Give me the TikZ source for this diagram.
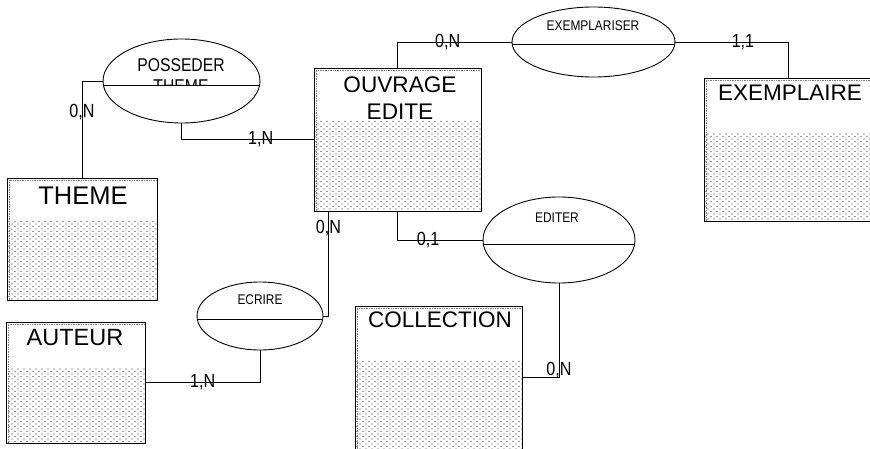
\documentclass[tikz,border=0pt]{standalone}
\usepackage{fontspec}
\setmainfont{Liberation Sans}
\newfontfamily\narrowfont[FakeStretch=0.85]{Liberation Sans}
\usepackage{tikz}
\usetikzlibrary{shapes.geometric}
\usetikzlibrary{patterns.meta}
\tikzdeclarepattern{name=erdots, type=uncolored,
  bottom left={(-1pt,-1pt)}, top right={(5pt,4pt)}, tile size={(6pt,5pt)},
  code={\fill (0pt,0pt) circle (0.6pt); \fill (3pt,2.5pt) circle (0.55pt);}}
\newcommand{\erfont}[2]{\fontsize{#1}{#2}\selectfont}

\begin{document}
\begin{tikzpicture}[x=1pt, y=-1pt, line width=0.9pt,
  entity/.style={draw, rectangle, inner sep=0pt, path picture={
      \fill[pattern=erdots, pattern color=black!80] (path picture bounding box.south west) rectangle ([yshift=-#1pt]path picture bounding box.north east);
      \draw[black!50, densely dotted, line width=0.7pt] ([xshift=2pt]path picture bounding box.south west) -- ([shift={(2pt,-2pt)}]path picture bounding box.north west) -- ([yshift=-2pt]path picture bounding box.north east);}},
  relation/.style={draw, ellipse, inner sep=0pt},
  card/.style={font=\narrowfont\erfont{19}{22}, inner sep=0pt}]
  \useasboundingbox (0,0) rectangle (870,449);
  \node[entity=44, minimum width=150pt, minimum height=122pt] (theme) at (82,239) {};
  \node[entity=46, minimum width=139pt, minimum height=121pt] (auteur) at (75.5,382.5) {};
  \node[entity=53, minimum width=167pt, minimum height=143pt] (ouvrage) at (397.5,139.5) {};
  \node[entity=55, minimum width=168pt, minimum height=143pt] (exemplaire) at (788,149.5) {};
  \node[entity=54, minimum width=167pt, minimum height=143pt] (collection) at (438.5,377.5) {};
  \node[font=\erfont{25.5}{30}] (themetitle) at (83,196) {THEME};
  \node[font=\erfont{23.5}{28}] (auteurtitle) at (75,338) {AUTEUR};
  \node[font=\erfont{22.6}{27}, align=center] (ouvragetitle) at (400,98.5) {OUVRAGE\\EDITE};
  \node[font=\erfont{22.5}{27}] (exemplairetitle) at (790,93) {EXEMPLAIRE};
  \node[font=\erfont{22.5}{27}] (collectiontitle) at (440,320) {COLLECTION};
  \node[relation, minimum width=157pt, minimum height=84pt] (posseder) at (181.5,81) {};
  \node[relation, minimum width=163pt, minimum height=70pt] (exemplariser) at (593.5,42) {};
  \node[relation, minimum width=152pt, minimum height=86pt] (editer) at (559,240) {};
  \node[relation, minimum width=126pt, minimum height=68pt] (ecrire) at (260,316) {};
  \begin{scope}
    \clip (100,20) rectangle (265,85);
    \node[font=\narrowfont\erfont{18.5}{21}, align=center] (possedertext) at (181,75.5) {POSSEDER\\THEME};
  \end{scope}
  \node[font=\narrowfont\erfont{14}{16}] (exemplarisertext) at (593,26) {EXEMPLARISER};
  \node[font=\narrowfont\erfont{14}{16}] (editertext) at (557,218) {EDITER};
  \node[font=\narrowfont\erfont{14}{16}] (ecriretext) at (260,300) {ECRIRE};
  \foreach \r/\d in {posseder/4, exemplariser/2, editer/4, ecrire/3}
    \draw ([yshift=-\d pt]\r.west) -- ([yshift=-\d pt]\r.east);
  \draw (posseder.west) -| node[card, pos=0.66] (c1) {0,N} (theme.north);
  \draw (posseder.south) |- node[card, pos=0.8] (c2) {1,N} (ouvrage.west);
  \draw (ouvrage.north) |- node[card, pos=0.72] (c3) {0,N} (exemplariser.west);
  \draw (exemplariser.east) -| node[card, pos=0.3] (c4) {1,1} (exemplaire.north);
  \draw (ouvrage.south) |- node[card, pos=0.68] (c5) {0,1} (editer.west);
  \draw (editer.south) |- node[card, pos=0.46] (c6) {0,N} (collection.east);
  \draw ([xshift=15pt]ouvrage.south west) |- node[card, pos=0.08] (c7) {0,N} (ecrire.east);
  \draw (ecrire.south) |- node[card, pos=0.75] (c8) {1,N} (auteur.east);
\end{tikzpicture}
\end{document}
